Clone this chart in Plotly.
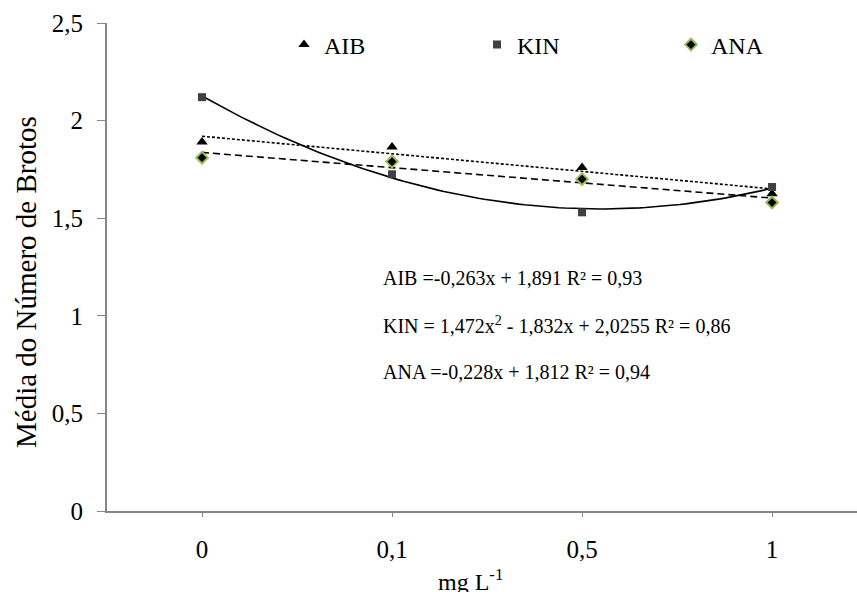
import numpy as np
import plotly.graph_objects as go

categories = ["0", "0,1", "0,5", "1"]
aib = [1.89, 1.865, 1.76, 1.625]
kin = [2.12, 1.725, 1.53, 1.66]
ana = [1.81, 1.79, 1.70, 1.58]
equations = [
    "AIB =-0,263x + 1,891 R² = 0,93",
    "KIN = 1,472x<sup>2</sup> - 1,832x + 2,0255 R² = 0,86",
    "ANA =-0,228x + 1,812 R² = 0,94",
]
x_title = "mg L<sup>-1</sup>"
y_title = "Média do Número de Brotos"

FONT = "Times New Roman"
W, H = 857, 592
L, R, T, B = 107, 0, 23, 81
PW, PH = W - L - R, H - T - B

def px_x(v):
    return (v - L) / PW

def px_y(v):
    return 1 - (v - T) / PH

xi = np.arange(len(categories))
xs = np.linspace(0, len(categories) - 1, 100)

fig = go.Figure()

# trendlines fitted from the data
p_aib = np.polyfit(xi, aib, 1)
p_kin = np.polyfit(xi, kin, 2)
p_ana = np.polyfit(xi, ana, 1)
fig.add_trace(go.Scatter(x=xs, y=np.polyval(p_aib, xs), mode="lines",
                         line=dict(color="black", width=1.6, dash="3px,2px"), showlegend=False, hoverinfo="skip"))
fig.add_trace(go.Scatter(x=xs, y=np.polyval(p_kin, xs), mode="lines",
                         line=dict(color="black", width=1.6), showlegend=False, hoverinfo="skip"))
fig.add_trace(go.Scatter(x=xs, y=np.polyval(p_ana, xs), mode="lines",
                         line=dict(color="black", width=1.6, dash="7px,4px"), showlegend=False, hoverinfo="skip"))

fig.add_trace(go.Scatter(x=xi, y=aib, mode="markers", name="AIB", legend="legend",
                         marker=dict(symbol="triangle-up", size=10, color="black")))
fig.add_trace(go.Scatter(x=xi, y=kin, mode="markers", name="KIN", legend="legend2",
                         marker=dict(symbol="square", size=8, color="#404040")))
fig.add_trace(go.Scatter(x=xi, y=ana, mode="markers", name="ANA", legend="legend3",
                         marker=dict(symbol="diamond", size=9, color="black",
                                     line=dict(color="#9BBB59", width=2))))

for i, t in enumerate(equations):
    fig.add_annotation(x=px_x(381), y=px_y(278 + 47 * i), xref="paper", yref="paper", text=t,
                       showarrow=False, xanchor="left", yanchor="middle",
                       font=dict(family=FONT, size=20, color="black"))

# axis titles
fig.add_annotation(x=px_x(470), y=px_y(580), xref="paper", yref="paper", text=x_title,
                   showarrow=False, xanchor="center", yanchor="middle",
                   font=dict(family=FONT, size=24, color="black"))
fig.add_annotation(x=px_x(26), y=px_y(282), xref="paper", yref="paper", text=y_title,
                   showarrow=False, xanchor="center", yanchor="middle", textangle=-90,
                   font=dict(family=FONT, size=29, color="black"))

leg_common = dict(orientation="v", xanchor="left", yanchor="middle", itemwidth=30,
                  font=dict(family=FONT, size=24, color="black"), bgcolor="rgba(0,0,0,0)")

fig.update_layout(
    width=W, height=H,
    margin=dict(l=L, r=R, t=T, b=B),
    plot_bgcolor="white", paper_bgcolor="white",
    font=dict(family=FONT, size=25, color="black"),
    showlegend=True,
    legend=dict(x=px_x(284), y=px_y(45), **leg_common),
    legend2=dict(x=px_x(477), y=px_y(45), **leg_common),
    legend3=dict(x=px_x(671), y=px_y(45), **leg_common),
    xaxis=dict(range=[-0.5, 3.447], tickmode="array", tickvals=list(xi), ticktext=categories,
               tickfont=dict(family=FONT, size=25, color="black"),
               showline=True, linecolor="#868686", linewidth=2, ticks="outside", ticklen=4,
               tickcolor="#868686", showgrid=False, zeroline=False, ticklabelstandoff=11),
    yaxis=dict(range=[0, 2.5], tickvals=[0, 0.5, 1, 1.5, 2, 2.5],
               ticktext=["0", "0,5", "1", "1,5", "2", "2,5"],
               tickfont=dict(family=FONT, size=25, color="black"),
               showline=True, linecolor="#868686", linewidth=2, ticks="outside", ticklen=8,
               tickcolor="#868686", showgrid=False, zeroline=False, ticklabelstandoff=9),
)

fig.write_html("out.html")
